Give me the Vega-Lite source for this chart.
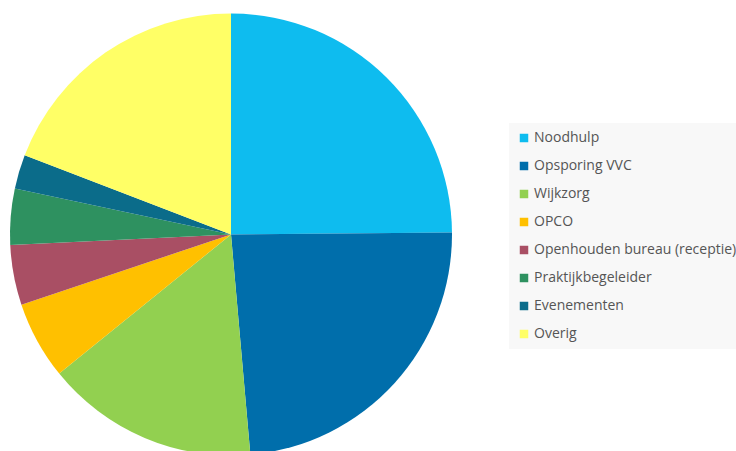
{
  "$schema": "https://vega.github.io/schema/vega-lite/v6.json",
  "autosize": {"type": "pad"},
  "padding": 0,
  "width": 462,
  "height": 469,
  "background": "white",
  "config": {"view": {"stroke": null}},
  "data": {"values": [
    {"k": 1, "cat": "Noodhulp", "v": 24.9},
    {"k": 2, "cat": "Opsporing VVC", "v": 23.8},
    {"k": 3, "cat": "Wijkzorg", "v": 15.6},
    {"k": 4, "cat": "OPCO", "v": 5.7},
    {"k": 5, "cat": "Openhouden bureau (receptie)", "v": 4.4},
    {"k": 6, "cat": "Praktijkbegeleider", "v": 4.1},
    {"k": 7, "cat": "Evenementen", "v": 2.5},
    {"k": 8, "cat": "Overig", "v": 19.2}
  ]},
  "mark": {"type": "arc", "outerRadius": 221},
  "encoding": {
    "theta": {"field": "v", "type": "quantitative", "stack": true},
    "order": {"field": "k", "type": "quantitative"},
    "color": {
      "field": "cat", "type": "nominal", "sort": null,
      "scale": {
        "domain": ["Noodhulp", "Opsporing VVC", "Wijkzorg", "OPCO", "Openhouden bureau (receptie)", "Praktijkbegeleider", "Evenementen", "Overig"],
        "range": ["#0EBCEF", "#006EAB", "#92D050", "#FFC000", "#A94F64", "#2E9160", "#0B6C8A", "#FFFF66"]
      },
      "legend": {
        "title": null,
        "orient": "none",
        "legendX": 509,
        "legendY": 123,
        "fillColor": "#F8F8F8",
        "padding": 8,
        "symbolType": "square",
        "symbolSize": 72,
        "symbolStrokeWidth": 0,
        "labelFont": "Open Sans",
        "labelFontSize": 14,
        "labelColor": "#555555",
        "labelOffset": 3,
        "labelLimit": 400,
        "rowPadding": 14
      }
    }
  }
}
